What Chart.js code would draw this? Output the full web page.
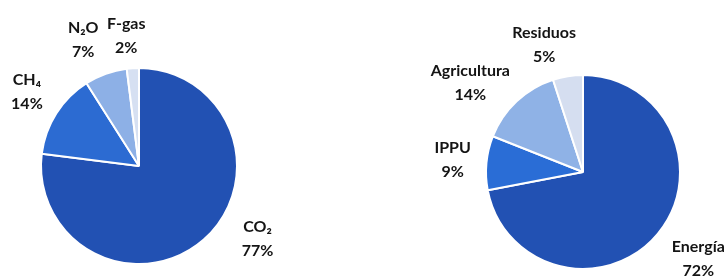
<!DOCTYPE html>
<html>
<head>
<meta charset="utf-8">
<script src="https://cdn.jsdelivr.net/npm/chart.js@4"></script>
<style>
  html, body { margin: 0; padding: 0; background: #fff; }
  .wrap { display: flex; width: 727px; height: 278px; }
  .box { position: relative; height: 278px; }
</style>
</head>
<body>
<div class="wrap">
  <div class="box" style="width:363px"><canvas id="gases"></canvas></div>
  <div class="box" style="width:364px"><canvas id="sectors"></canvas></div>
</div>
<script>
// data
const gasLabels = ['CO₂', 'CH₄', 'N₂O', 'F-gas'];
const gasValues = [77, 14, 7, 2];
const sectorLabels = ['Energía', 'IPPU', 'Agricultura', 'Residuos'];
const sectorValues = [72, 9, 14, 5];

const gasColors = ['#2251b3', '#2c6bd2', '#8db0e6', '#d6e0f2'];
const sectorColors = ['#2251b3', '#2a6dd6', '#8fb2e6', '#d5def0'];

// label placement: [angle shift in degrees, distance as factor of radius]
const gasLabelPos = [[-17, 1.42], [1, 1.37], [-4, 1.41], [-2, 1.33]];
const sectorLabelPos = [[-2.5, 1.49], [0, 1.35], [-8.5, 1.48], [-8, 1.37]];

const outsideLabels = {
  id: 'outsideLabels',
  afterDraw(chart, args, opts) {
    const ctx = chart.ctx;
    const meta = chart.getDatasetMeta(0);
    const data = chart.data.datasets[0].data;
    const total = data.reduce((a, b) => a + b, 0);
    ctx.save();
    ctx.fillStyle = '#141414';
    ctx.font = 'bold 16px Lato, "DejaVu Sans", sans-serif';
    ctx.textAlign = 'center';
    ctx.textBaseline = 'middle';
    meta.data.forEach((arc, i) => {
      const p = arc.getProps(['x', 'y', 'startAngle', 'endAngle', 'outerRadius'], true);
      const pos = opts.pos[i];
      const a = (p.startAngle + p.endAngle) / 2 + pos[0] * Math.PI / 180;
      const d = p.outerRadius * pos[1];
      const x = p.x + Math.cos(a) * d;
      const y = p.y + Math.sin(a) * d;
      const pct = Math.round(data[i] / total * 100) + '%';
      ctx.fillText(chart.data.labels[i], x, y - 12);
      ctx.fillText(pct, x, y + 12);
    });
    ctx.restore();
  }
};

function makePie(id, labels, values, colors, pos, padding) {
  return new Chart(document.getElementById(id), {
    type: 'pie',
    data: {
      labels: labels,
      datasets: [{
        data: values,
        backgroundColor: colors,
        borderColor: '#ffffff',
        borderWidth: 2
      }]
    },
    options: {
      responsive: true,
      maintainAspectRatio: false,
      animation: false,
      layout: { padding: padding },
      plugins: {
        legend: { display: false },
        tooltip: { enabled: false },
        outsideLabels: { pos: pos }
      }
    },
    plugins: [outsideLabels]
  });
}

makePie('gases', gasLabels, gasValues, gasColors, gasLabelPos,
  { left: 40, right: 125, top: 67, bottom: 13 });
makePie('sectors', sectorLabels, sectorValues, sectorColors, sectorLabelPos,
  { left: 122, right: 46, top: 74, bottom: 8 });
</script>
</body>
</html>
